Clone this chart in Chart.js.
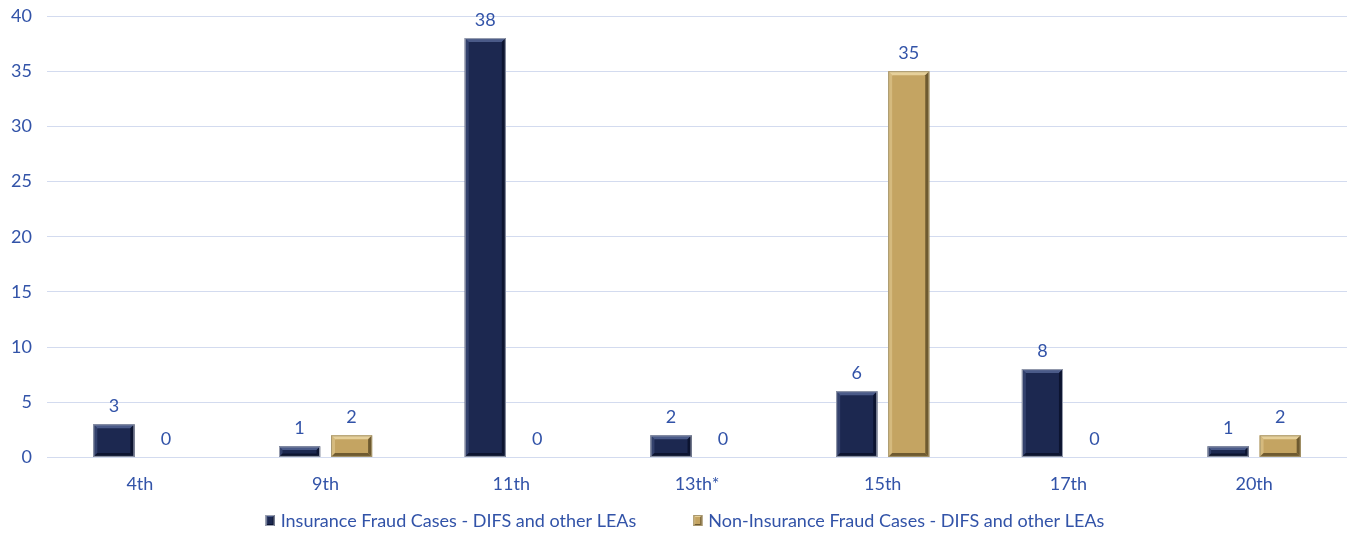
<!DOCTYPE html>
<html>
<head>
<meta charset="utf-8">
<script src="https://cdn.jsdelivr.net/npm/chart.js@4"></script>
<style>
  html, body { margin: 0; padding: 0; background: #fff; }
  #box { width: 1353px; height: 534px; }
</style>
</head>
<body>
<div id="box"><canvas id="grafico"></canvas></div>
<script>
const categorias = ['4th', '9th', '11th', '13th*', '15th', '17th', '20th'];
const casosSeguro = [3, 1, 38, 2, 6, 8, 1];
const casosNaoSeguro = [0, 2, 0, 0, 35, 0, 2];
const nomesSeries = ['Insurance Fraud Cases - DIFS and other LEAs', 'Non-Insurance Fraud Cases - DIFS and other LEAs'];
const ticksY = [0, 5, 10, 15, 20, 25, 30, 35, 40];

const azulTexto = '#3253a8';
const fonte = 'Lato, "Open Sans", sans-serif';

// cores: base, claro, escuro
const paletas = [
    { base: '#1c2850', claro: '#4a5a88', escuro: '#0c1430', borda: '#9aa0b0' },
    { base: '#c4a462', claro: '#e6d09a', escuro: '#6e5a30', borda: '#a89870' }
];

// retângulo com chanfro (barras e caixinhas da legenda)
function retChanfrado(ctx, x0, y0, x1, y1, p, bMax) {
    const h = y1 - y0;
    const b = Math.min(bMax, h / 3, (x1 - x0) / 3);
    ctx.save();
    ctx.fillStyle = p.base;
    ctx.fillRect(x0, y0, x1 - x0, h);
    ctx.fillStyle = p.claro;
    ctx.beginPath();
    ctx.moveTo(x0, y0); ctx.lineTo(x1, y0); ctx.lineTo(x1 - b, y0 + b); ctx.lineTo(x0 + b, y0 + b);
    ctx.fill();
    ctx.globalAlpha = 0.5;
    ctx.beginPath();
    ctx.moveTo(x0, y0); ctx.lineTo(x0 + b, y0 + b); ctx.lineTo(x0 + b, y1 - b); ctx.lineTo(x0, y1);
    ctx.fill();
    ctx.globalAlpha = 1;
    ctx.fillStyle = p.escuro;
    ctx.beginPath();
    ctx.moveTo(x1, y0); ctx.lineTo(x1, y1); ctx.lineTo(x1 - b, y1 - b); ctx.lineTo(x1 - b, y0 + b);
    ctx.fill();
    ctx.beginPath();
    ctx.moveTo(x0, y1); ctx.lineTo(x1, y1); ctx.lineTo(x1 - b, y1 - b); ctx.lineTo(x0 + b, y1 - b);
    ctx.fill();
    ctx.strokeStyle = p.borda;
    ctx.lineWidth = 1;
    ctx.strokeRect(x0 + 0.5, y0 + 0.5, x1 - x0 - 1, h - 1);
    ctx.restore();
}

const chanfro = {
    id: 'chanfro',
    afterDatasetsDraw(chart) {
        chart.data.datasets.forEach((ds, i) => {
            chart.getDatasetMeta(i).data.forEach((bar, j) => {
                if (!ds.data[j]) return;
                retChanfrado(chart.ctx, bar.x - bar.width / 2, bar.y, bar.x + bar.width / 2, bar.base, paletas[i], 4);
            });
        });
    }
};

// rótulos de valor acima das barras
const rotulos = {
    id: 'rotulos',
    afterDatasetsDraw(chart) {
        const ctx = chart.ctx;
        ctx.save();
        ctx.font = '18px ' + fonte;
        ctx.fillStyle = azulTexto;
        ctx.textAlign = 'center';
        ctx.textBaseline = 'bottom';
        chart.data.datasets.forEach((ds, i) => {
            chart.getDatasetMeta(i).data.forEach((bar, j) => {
                ctx.fillText(String(ds.data[j]), bar.x, bar.y - 9);
            });
        });
        ctx.restore();
    }
};

// legenda desenhada à mão, pra controlar o espaçamento
const legendaManual = {
    id: 'legendaManual',
    afterDraw(chart) {
        const ctx = chart.ctx;
        ctx.save();
        ctx.font = '18px ' + fonte;
        const caixa = 9, folga = 6, entre = 57;
        const larguras = nomesSeries.map(n => ctx.measureText(n).width);
        const total = larguras.reduce((a, w) => a + caixa + folga + w, 0) + entre;
        let x = 685 - total / 2;
        const y = 521;
        ctx.textBaseline = 'middle';
        nomesSeries.forEach((n, i) => {
            retChanfrado(ctx, x, y - 6, x + caixa, y + 5, paletas[i], 2);
            ctx.fillStyle = azulTexto;
            ctx.fillText(n, x + caixa + folga, y);
            x += caixa + folga + larguras[i] + entre;
        });
        ctx.restore();
    }
};

new Chart(document.getElementById('grafico'), {
    type: 'bar',
    data: {
        labels: categorias,
        datasets: [
            { label: nomesSeries[0], data: casosSeguro, backgroundColor: 'rgba(0,0,0,0)', borderWidth: 0 },
            { label: nomesSeries[1], data: casosNaoSeguro, backgroundColor: 'rgba(0,0,0,0)', borderWidth: 0 }
        ]
    },
    options: {
        responsive: true,
        maintainAspectRatio: false,
        animation: false,
        layout: { padding: { left: 11, right: 6, top: 16, bottom: 31 } },
        datasets: { bar: { categoryPercentage: 0.56, barPercentage: 0.79 } },
        scales: {
            x: {
                grid: { display: false },
                border: { display: false },
                ticks: { color: azulTexto, font: { family: fonte, size: 18 }, padding: 8 }
            },
            y: {
                min: 0,
                max: 40,
                afterBuildTicks(axis) { axis.ticks = ticksY.map(v => ({ value: v })); },
                afterFit(axis) { axis.width = 36; axis.paddingTop = 0; axis.paddingBottom = 0; },
                grid: { color: '#d3dbef', lineWidth: 1, drawTicks: false },
                border: { display: false },
                ticks: { color: azulTexto, font: { family: fonte, size: 18 }, padding: 15 }
            }
        },
        plugins: {
            legend: { display: false },
            tooltip: { enabled: false }
        }
    },
    plugins: [chanfro, rotulos, legendaManual]
});
</script>
</body>
</html>
